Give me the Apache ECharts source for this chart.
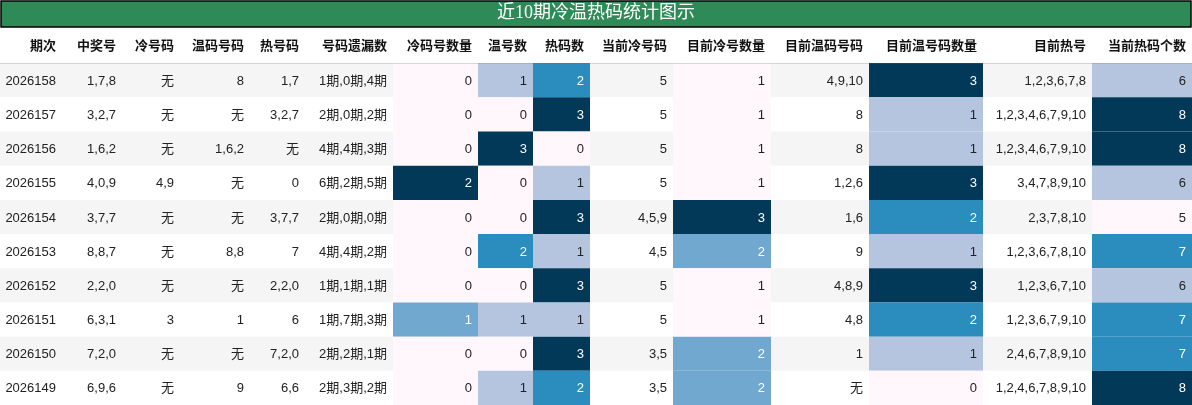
<!DOCTYPE html>
<html><head><meta charset="utf-8">
<script src="https://cdn.jsdelivr.net/npm/echarts@6/dist/echarts.min.js"></script>
<style>html,body{margin:0;padding:0;background:#fff}#main{width:1192px;height:405px}</style>
</head><body><div id="main"></div>
<script>
var dom = document.getElementById("main");
var myChart = echarts.init(dom);

var titleText = '近10期冷温热码统计图示';
var headers = ['期次', '中奖号', '冷号码', '温码号码', '热号码', '号码遗漏数', '冷码号数量', '温号数', '热码数',
    '当前冷号码', '目前冷号数量', '目前温码号码', '目前温号码数量', '目前热号', '当前热码个数'];
var periods = ['2026158', '2026157', '2026156', '2026155', '2026154', '2026153', '2026152', '2026151', '2026150', '2026149'];
var winNums = ['1,7,8', '3,2,7', '1,6,2', '4,0,9', '3,7,7', '8,8,7', '2,2,0', '6,3,1', '7,2,0', '6,9,6'];
var coldNums = ['无', '无', '无', '4,9', '无', '无', '无', '3', '无', '无'];
var warmNums = ['8', '无', '1,6,2', '无', '无', '8,8', '无', '1', '无', '9'];
var hotNums = ['1,7', '3,2,7', '无', '0', '3,7,7', '7', '2,2,0', '6', '7,2,0', '6,6'];
var missing = ['1期,0期,4期', '2期,0期,2期', '4期,4期,3期', '6期,2期,5期', '2期,0期,0期', '4期,4期,2期', '1期,1期,1期', '1期,7期,3期', '2期,2期,1期', '2期,3期,2期'];
var coldCount = [0, 0, 0, 2, 0, 0, 0, 1, 0, 0];
var warmCount = [1, 0, 3, 0, 0, 2, 0, 1, 0, 1];
var hotCount = [2, 3, 0, 1, 3, 1, 3, 1, 3, 2];
var curCold = ['5', '5', '5', '5', '4,5,9', '4,5', '5', '5', '3,5', '3,5'];
var curColdCount = [1, 1, 1, 1, 3, 2, 1, 1, 2, 2];
var curWarm = ['4,9,10', '8', '8', '1,2,6', '1,6', '9', '4,8,9', '4,8', '1', '无'];
var curWarmCount = [3, 1, 1, 3, 2, 1, 3, 2, 1, 0];
var curHot = ['1,2,3,6,7,8', '1,2,3,4,6,7,9,10', '1,2,3,4,6,7,9,10', '3,4,7,8,9,10', '2,3,7,8,10', '1,2,3,6,7,8,10', '1,2,3,6,7,10', '1,2,3,6,7,9,10', '2,4,6,7,8,9,10', '1,2,4,6,7,8,9,10'];
var curHotCount = [6, 8, 8, 6, 5, 7, 6, 7, 7, 8];

var columns = [periods, winNums, coldNums, warmNums, hotNums, missing, coldCount, warmCount, hotCount,
    curCold, curColdCount, curWarm, curWarmCount, curHot, curHotCount];
// column widths (layout)
var colWidths = [62, 60, 58, 70, 55, 88, 85, 55, 57, 83, 98, 98, 114, 109, 100];
var colEdges = [0];
colWidths.forEach(function (w) { colEdges.push(colEdges[colEdges.length - 1] + w); });

var puBu = ['#fff7fb', '#b5c4df', '#2b8cbe', '#023858'];
function mix(a, b, t) {
    var pa = [1, 3, 5].map(function (i) { return parseInt(a.substr(i, 2), 16); });
    var pb = [1, 3, 5].map(function (i) { return parseInt(b.substr(i, 2), 16); });
    return 'rgb(' + pa.map(function (v, i) { return Math.round(v + (pb[i] - v) * t); }).join(',') + ')';
}
function scale(t) {
    var s = t * 3, i = Math.min(2, Math.floor(s));
    return mix(puBu[i], puBu[i + 1], s - i);
}

var rowCats = ['h'].concat(periods);
var data = [];
headers.forEach(function (h, c) {
    data.push({ value: [c, 0, h, 'header'] });
});
columns.forEach(function (col, c) {
    var numeric = typeof col[0] === 'number';
    var mn = numeric ? Math.min.apply(null, col) : 0;
    var mx = numeric ? Math.max.apply(null, col) : 1;
    col.forEach(function (v, r) {
        var fill = r % 2 === 0 ? '#f5f5f5' : '#ffffff', txt = '#222';
        if (numeric) {
            var t = (v - mn) / (mx - mn);
            fill = scale(t);
            txt = t >= 0.45 ? '#ffffff' : '#222';
        }
        data.push({ value: [c, r + 1, String(v), fill, txt] });
    });
});

var option = {
    animation: false,
    graphic: [{
        type: 'rect', shape: { x: 1, y: 1, width: 1190, height: 26 },
        style: { fill: '#2e8b57', stroke: '#000', lineWidth: 1.5 }
    }, {
        type: 'text', left: 'center', top: 4,
        style: { text: titleText, fill: '#fff', font: '18px "Liberation Serif","Noto Sans CJK SC"' }
    }, {
        type: 'line', shape: { x1: 0, y1: 63, x2: 1192, y2: 63 }, style: { stroke: '#000', lineWidth: 1.5 }
    }],
    grid: { left: 0, right: 0, top: 29, bottom: 0 },
    xAxis: { type: 'value', min: 0, max: 1192, show: false },
    yAxis: { type: 'category', data: rowCats, inverse: true, show: false },
    series: [{
        type: 'custom',
        data: data,
        renderItem: function (params, api) {
            var c = api.value(0), r = api.value(1);
            var item = data[params.dataIndex].value;
            var p0 = api.coord([colEdges[c], r]);
            var p1 = api.coord([colEdges[c + 1], r]);
            var h = api.size([0, 1])[1];
            var y = p0[1] - h / 2;
            var isHeader = item[3] === 'header';
            return {
                type: 'group',
                children: [{
                    type: 'rect',
                    shape: { x: p0[0], y: y, width: p1[0] - p0[0], height: h },
                    style: { fill: isHeader ? '#fff' : item[3] }
                }, {
                    type: 'text',
                    x: p1[0] - 6, y: p0[1] + (isHeader ? 0 : 1),
                    style: {
                        text: item[2], align: 'right', verticalAlign: 'middle',
                        fill: isHeader ? '#111' : item[4],
                        font: (isHeader ? 'bold ' : '') + '13px "Liberation Sans","Noto Sans CJK SC",sans-serif'
                    }
                }]
            };
        }
    }]
};

myChart.setOption(option, true);
window.addEventListener("resize", function () {
    myChart.resize();
});
</script></body></html>
